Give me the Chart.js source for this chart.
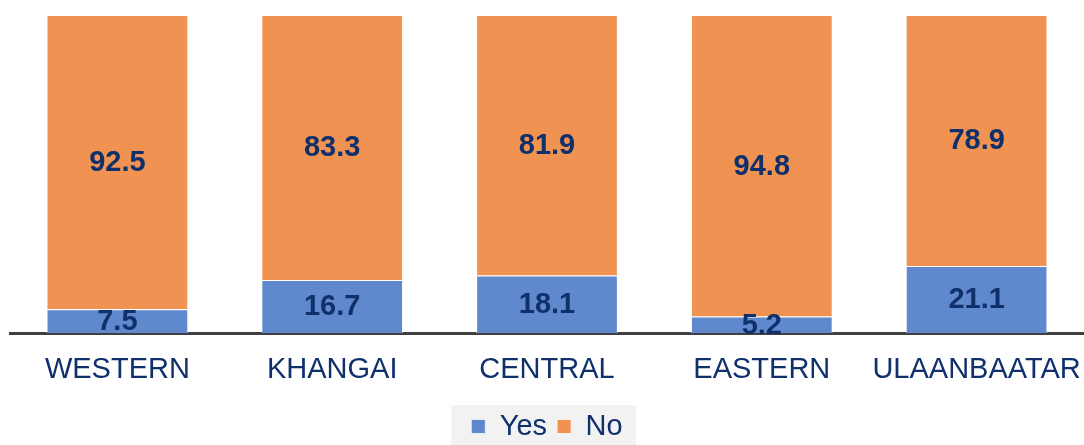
<!DOCTYPE html>
<html>
<head>
<meta charset="utf-8">
<script src="https://cdn.jsdelivr.net/npm/chart.js@4"></script>
<style>
  html, body { margin: 0; padding: 0; background: #fff; }
  #regionChart { display: block; }
</style>
</head>
<body>
<canvas id="regionChart" width="1084" height="445"></canvas>
<script>
var regions = ["WESTERN", "KHANGAI", "CENTRAL", "EASTERN", "ULAANBAATAR"];
var yesValues = [7.5, 16.7, 18.1, 5.2, 21.1];
var noValues = [92.5, 83.3, 81.9, 94.8, 78.9];

var navy = "#10306c";
var font_ = "'Liberation Sans', Arial, sans-serif";

// numbers in the middle of each segment
var segmentLabels = {
    id: "segmentLabels",
    afterDatasetsDraw: function(chart) {
        var ctx = chart.ctx;
        ctx.save();
        ctx.font = "bold 29px " + font_;
        ctx.fillStyle = navy;
        ctx.textAlign = "center";
        ctx.textBaseline = "middle";
        chart.data.datasets.forEach(function(ds, i) {
            var meta = chart.getDatasetMeta(i);
            meta.data.forEach(function(bar, j) {
                var mid = (bar.y + bar.base) / 2;
                ctx.fillText(ds.data[j].toFixed(1), bar.x, mid + 1);
            });
        });
        ctx.restore();
    }
};

// grey panel behind the legend items
var legendPanel = {
    id: "legendPanel",
    beforeDraw: function(chart) {
        var boxes = chart.legend && chart.legend.legendHitBoxes;
        if (!boxes || !boxes.length) return;
        var left = boxes[0].left - 20;
        var last = boxes[boxes.length - 1];
        var right = last.left + last.width + 13;
        var ctx = chart.ctx;
        ctx.save();
        ctx.fillStyle = "#f2f2f2";
        ctx.fillRect(left, 405, right - left, 40);
        ctx.restore();
    }
};

new Chart("regionChart", {
    type: "bar",
    data: {
        labels: regions,
        datasets: [{
            label: "Yes",
            data: yesValues,
            backgroundColor: "#6088cd",
            borderColor: "rgba(255,255,255,0.7)",
            borderWidth: 1
        }, {
            label: "No",
            data: noValues,
            backgroundColor: "#ef9252",
            borderColor: "rgba(255,255,255,0.7)",
            borderWidth: 1
        }]
    },
    options: {
        responsive: false,
        animation: false,
        layout: { padding: { top: 15, left: 10, right: 0, bottom: -6 } },
        datasets: { bar: { barPercentage: 0.66, categoryPercentage: 1 } },
        scales: {
            x: {
                stacked: true,
                grid: { display: false },
                border: { display: true, color: "#404040", width: 3 },
                ticks: {
                    color: navy,
                    padding: 12,
                    maxRotation: 0,
                    font: { family: font_, size: 29 }
                },
                afterFit: function(scale) {
                    scale.height = 69;
                    scale.paddingLeft = 0;
                    scale.paddingRight = 0;
                }
            },
            y: {
                stacked: true,
                display: false,
                min: 0,
                max: 100
            }
        },
        plugins: {
            legend: {
                position: "bottom",
                labels: {
                    boxWidth: 14,
                    boxHeight: 14,
                    padding: 10,
                    color: navy,
                    font: { family: font_, size: 29 }
                }
            },
            tooltip: { enabled: false }
        }
    },
    plugins: [segmentLabels, legendPanel]
});
</script>
</body>
</html>
